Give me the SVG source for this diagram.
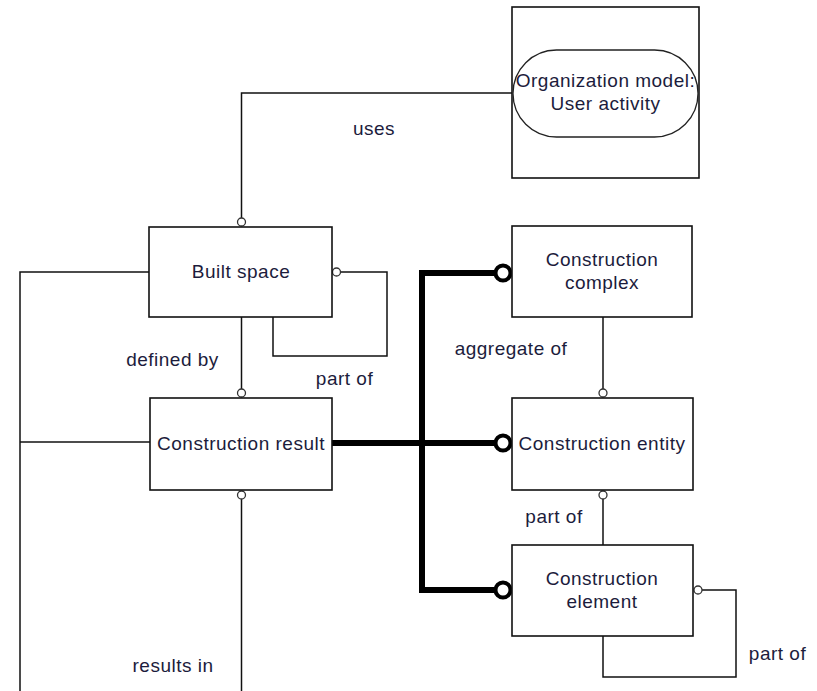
<svg xmlns="http://www.w3.org/2000/svg" width="817" height="691" viewBox="0 0 817 691">
  <style>
    .box { fill: #ffffff; stroke: #111111; stroke-width: 1.6; }
    .wire { fill: none; stroke: #111111; stroke-width: 1.5; }
    .bold { fill: none; stroke: #000000; stroke-width: 6; stroke-linejoin: miter; }
    .dot { fill: #ffffff; stroke: #333333; stroke-width: 1.3; }
    .bigdot { fill: #ffffff; stroke: #000000; stroke-width: 4; }
    text { font-family: "Liberation Sans", Arial, sans-serif; font-size: 19px; letter-spacing: 0.5px; fill: #1c1c3c; }
    .c { text-anchor: middle; }
  </style>
  <rect width="817" height="691" fill="#ffffff"/>

  <!-- connectors -->
  <g id="connectors">
    <!-- uses -->
    <polyline class="wire" points="241.5,218 241.5,93 512,93"/>
    <!-- left rail: built space / construction result / results in -->
    <polyline class="wire" points="149,272 20,272 20,691"/>
    <line class="wire" x1="20" y1="442" x2="150" y2="442"/>
    <!-- defined by -->
    <line class="wire" x1="241.5" y1="317" x2="241.5" y2="389"/>
    <!-- built space part of (self) -->
    <polyline class="wire" points="340,272 387,272 387,356 273,356 273,317"/>
    <!-- results in -->
    <line class="wire" x1="241.5" y1="499" x2="241.5" y2="691"/>
    <!-- aggregate of -->
    <line class="wire" x1="603" y1="317" x2="603" y2="389"/>
    <!-- entity / element part of -->
    <line class="wire" x1="603" y1="499" x2="603" y2="545"/>
    <!-- element part of (self) -->
    <polyline class="wire" points="702,590 736,590 736,677 603,677 603,636"/>
    <!-- bold specialisation bus -->
    <polyline class="bold" points="495,273 422,273 422,590 495,590"/>
    <line class="bold" x1="332" y1="443" x2="495" y2="443"/>

    <!-- end circles -->
    <circle class="dot" cx="241.5" cy="222" r="4"/>
    <circle class="dot" cx="336.5" cy="272" r="4"/>
    <circle class="dot" cx="241.5" cy="393" r="4"/>
    <circle class="dot" cx="241.5" cy="495" r="4"/>
    <circle class="dot" cx="603" cy="393" r="4"/>
    <circle class="dot" cx="603" cy="495" r="4"/>
    <circle class="dot" cx="698" cy="590" r="4"/>
    <circle class="bigdot" cx="503" cy="273" r="7.5"/>
    <circle class="bigdot" cx="503" cy="443" r="7.5"/>
    <circle class="bigdot" cx="503" cy="590" r="7.5"/>

    <!-- connector labels -->
    <text x="374" y="135" class="c">uses</text>
    <text x="172.5" y="366" class="c">defined by</text>
    <text x="344.5" y="385" class="c">part of</text>
    <text x="511" y="355" class="c">aggregate of</text>
    <text x="554" y="523" class="c">part of</text>
    <text x="777.5" y="660" class="c">part of</text>
    <text x="173" y="672" class="c">results in</text>
  </g>

  <g id="organization-model">
    <rect class="box" x="512" y="7" width="187" height="171"/>
    <rect x="513" y="50" width="185" height="87" rx="43.5" ry="43.5" fill="#ffffff" stroke="#222222" stroke-width="1.3"/>
    <text x="605.5" y="87" class="c">Organization model:</text>
    <text x="605.5" y="110" class="c">User activity</text>
  </g>

  <g id="built-space">
    <rect class="box" x="149" y="227" width="183" height="90"/>
    <text x="241" y="278" class="c">Built space</text>
  </g>

  <g id="construction-result">
    <rect class="box" x="150" y="398" width="182" height="92"/>
    <text x="241" y="450" class="c">Construction result</text>
  </g>

  <g id="construction-complex">
    <rect class="box" x="512" y="226" width="180" height="91"/>
    <text x="602" y="266" class="c">Construction</text>
    <text x="602" y="289" class="c">complex</text>
  </g>

  <g id="construction-entity">
    <rect class="box" x="512" y="398" width="181" height="92"/>
    <text x="602" y="450" class="c">Construction entity</text>
  </g>

  <g id="construction-element">
    <rect class="box" x="512" y="545" width="181" height="91"/>
    <text x="602" y="585" class="c">Construction</text>
    <text x="602" y="608" class="c">element</text>
  </g>
</svg>
